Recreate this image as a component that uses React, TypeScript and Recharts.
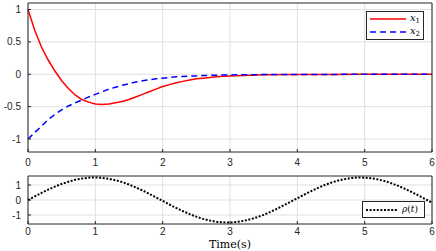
import React from "react";
import {
  LineChart,
  Line,
  XAxis,
  YAxis,
  CartesianGrid,
  Legend,
} from "recharts";

// time samples of the top plot
const T_TOP = [
  0, 0.1, 0.2, 0.3, 0.4, 0.5, 0.6, 0.7, 0.8, 0.9, 1.0, 1.1, 1.2, 1.3, 1.4, 1.5,
  1.6, 1.7, 1.8, 1.9, 2.0, 2.1, 2.2, 2.3, 2.4, 2.5, 2.6, 2.7, 2.8, 2.9, 3.0,
  3.5, 4.0, 4.5, 5.0, 5.5, 6.0,
];
const X1 = [
  1.0, 0.68, 0.42, 0.22, 0.05, -0.1, -0.22, -0.32, -0.39, -0.43, -0.46, -0.465,
  -0.46, -0.44, -0.42, -0.39, -0.35, -0.31, -0.27, -0.23, -0.19, -0.16, -0.13,
  -0.11, -0.09, -0.07, -0.06, -0.05, -0.04, -0.03, -0.025, -0.008, -0.004,
  -0.002, -0.001, 0, 0,
];
const X2 = [
  -1.0, -0.9, -0.8, -0.7, -0.62, -0.55, -0.49, -0.44, -0.4, -0.35, -0.31, -0.27,
  -0.23, -0.2, -0.17, -0.145, -0.12, -0.1, -0.085, -0.07, -0.06, -0.05, -0.04,
  -0.035, -0.03, -0.025, -0.02, -0.017, -0.014, -0.012, -0.01, -0.005, -0.003,
  -0.002, -0.001, 0, 0,
];

// time samples of the bottom plot
const T_RHO = [
  0, 0.1, 0.2, 0.3, 0.4, 0.5, 0.6, 0.7, 0.8, 0.9, 1.0, 1.1, 1.2, 1.3, 1.4, 1.5,
  1.6, 1.7, 1.8, 1.9, 2.0, 2.1, 2.2, 2.3, 2.4, 2.5, 2.6, 2.7, 2.8, 2.9, 3.0, 3.1,
  3.2, 3.3, 3.4, 3.5, 3.6, 3.7, 3.8, 3.9, 4.0, 4.1, 4.2, 4.3, 4.4, 4.5, 4.6, 4.7,
  4.8, 4.9, 5.0, 5.1, 5.2, 5.3, 5.4, 5.5, 5.6, 5.7, 5.8, 5.9, 6.0,
];
const RHO = [
  0, 0.24, 0.47, 0.69, 0.89, 1.07, 1.22, 1.35, 1.43, 1.49, 1.5, 1.48, 1.41, 1.32,
  1.19, 1.03, 0.84, 0.64, 0.41, 0.18, -0.06, -0.3, -0.53, -0.74, -0.94, -1.11,
  -1.26, -1.37, -1.45, -1.49, -1.5, -1.46, -1.39, -1.29, -1.15, -0.99, -0.79,
  -0.58, -0.35, -0.12, 0.12, 0.35, 0.58, 0.79, 0.99, 1.15, 1.29, 1.39, 1.46, 1.5,
  1.49, 1.45, 1.37, 1.26, 1.11, 0.94, 0.74, 0.53, 0.3, 0.06, -0.18,
];

const X_TICKS = [0, 1, 2, 3, 4, 5, 6];
const Y_TICKS_TOP = [-1, -0.5, 0, 0.5, 1];
const Y_TICKS_BOT = [-1, 0, 1];

const topData = T_TOP.map((t, i) => ({ t, x1: X1[i], x2: X2[i] }));
const rhoData = T_RHO.map((t, i) => ({ t, rho: RHO[i] }));

const AXIS = "#262626";
const GRID = "#dfdfdf";
const tickFont = { fontSize: 10, fill: AXIS, fontFamily: "Liberation Sans, Arial, sans-serif" };
const mathFont = "DejaVu Serif, serif";

const labelFor = (key: string) => {
  if (key === "x1" || key === "x2")
    return (
      <span style={{ fontFamily: mathFont, fontStyle: "italic", fontSize: 10 }}>
        x
        <sub style={{ fontSize: 7, fontStyle: "normal", verticalAlign: -2 }}>
          {key === "x1" ? "1" : "2"}
        </sub>
      </span>
    );
  return (
    <span style={{ fontFamily: mathFont, fontStyle: "italic", fontSize: 9 }}>
      ρ<span style={{ fontStyle: "normal" }}>(</span>t<span style={{ fontStyle: "normal" }}>)</span>
    </span>
  );
};

const makeLegend = (lineW: number, rowH: number) => (props: any) => {
  const payload = props.payload || [];
  return (
    <div
      style={{
        boxSizing: "border-box",
        border: `1px solid ${AXIS}`,
        background: "#fff",
        padding: "1px 3px",
        lineHeight: 1,
      }}
    >
      {payload.map((p: any) => (
        <div key={p.dataKey} style={{ display: "flex", alignItems: "center", height: rowH }}>
          <svg width={lineW} height={6} style={{ marginRight: 4 }}>
            <line
              x1={0}
              y1={3}
              x2={lineW}
              y2={3}
              stroke={p.color}
              strokeWidth={p.payload?.strokeWidth ?? 1.5}
              strokeDasharray={p.payload?.strokeDasharray}
            />
          </svg>
          {labelFor(String(p.dataKey))}
        </div>
      ))}
    </div>
  );
};

export default function App() {
  return (
    <div
      style={{
        position: "absolute",
        left: 0,
        top: 0,
        width: 436,
        height: 251,
        background: "#fff",
      }}
    >
      <div style={{ position: "absolute", left: 0, top: 0 }}>
        <LineChart width={436} height={170} data={topData} margin={{ top: 2, right: 3, left: 0, bottom: 0 }}>
          <CartesianGrid stroke={GRID} horizontalValues={Y_TICKS_TOP} verticalValues={X_TICKS} />
          <XAxis
            dataKey="t"
            type="number"
            domain={[0, 6]}
            ticks={X_TICKS}
            interval={0}
            height={18}
            tick={tickFont}
            tickSize={-3}
            tickMargin={10}
            axisLine={{ stroke: AXIS }}
            tickLine={{ stroke: AXIS }}
          />
          <XAxis
            xAxisId="top"
            orientation="top"
            dataKey="t"
            type="number"
            domain={[0, 6]}
            ticks={X_TICKS}
            interval={0}
            height={1}
            tick={false}
            tickSize={-3}
            axisLine={{ stroke: AXIS }}
            tickLine={{ stroke: AXIS }}
          />
          <YAxis
            type="number"
            domain={[-1.2, 1.1]}
            ticks={Y_TICKS_TOP}
            interval={0}
            width={28}
            tick={tickFont}
            tickSize={-3}
            tickMargin={10}
            axisLine={{ stroke: AXIS }}
            tickLine={{ stroke: AXIS }}
          />
          <YAxis
            yAxisId="right"
            orientation="right"
            type="number"
            domain={[-1.2, 1.1]}
            ticks={Y_TICKS_TOP}
            interval={0}
            width={1}
            tick={false}
            tickSize={-3}
            axisLine={{ stroke: AXIS }}
            tickLine={{ stroke: AXIS }}
          />
          <Line
            type="linear"
            dataKey="x1"
            stroke="#ff0000"
            strokeWidth={1.5}
            dot={false}
            isAnimationActive={false}
          />
          <Line
            type="linear"
            dataKey="x2"
            stroke="#0000ff"
            strokeWidth={1.5}
            strokeDasharray="6 4"
            dot={false}
            isAnimationActive={false}
          />
          <Legend
            layout="vertical"
            align="center"
            verticalAlign="middle"
            content={makeLegend(36, 12.5)}
            wrapperStyle={{ left: 366, top: 11, width: 58 }}
          />
        </LineChart>
      </div>
      <div style={{ position: "absolute", left: 0, top: 170 }}>
        <LineChart width={436} height={81} data={rhoData} margin={{ top: 5, right: 3, left: 0, bottom: 0 }}>
          <CartesianGrid stroke={GRID} horizontalValues={Y_TICKS_BOT} verticalValues={X_TICKS} />
          <XAxis
            dataKey="t"
            type="number"
            domain={[0, 6]}
            ticks={X_TICKS}
            interval={0}
            height={27}
            tick={tickFont}
            tickSize={-3}
            tickMargin={7}
            axisLine={{ stroke: AXIS }}
            tickLine={{ stroke: AXIS }}
            label={{
              value: "Time(s)",
              position: "insideBottom",
              offset: 3,
              style: { fontFamily: mathFont, fontSize: 11, fill: "#000" },
            }}
          />
          <XAxis
            xAxisId="top"
            orientation="top"
            dataKey="t"
            type="number"
            domain={[0, 6]}
            ticks={X_TICKS}
            interval={0}
            height={1}
            tick={false}
            tickSize={-3}
            axisLine={{ stroke: AXIS }}
            tickLine={{ stroke: AXIS }}
          />
          <YAxis
            type="number"
            domain={[-1.6, 1.6]}
            ticks={Y_TICKS_BOT}
            interval={0}
            width={28}
            tick={tickFont}
            tickSize={-3}
            tickMargin={10}
            axisLine={{ stroke: AXIS }}
            tickLine={{ stroke: AXIS }}
          />
          <YAxis
            yAxisId="right"
            orientation="right"
            type="number"
            domain={[-1.6, 1.6]}
            ticks={Y_TICKS_BOT}
            interval={0}
            width={1}
            tick={false}
            tickSize={-3}
            axisLine={{ stroke: AXIS }}
            tickLine={{ stroke: AXIS }}
          />
          <Line
            type="linear"
            dataKey="rho"
            stroke="#000"
            strokeWidth={2}
            strokeDasharray="2 1.6"
            dot={false}
            isAnimationActive={false}
          />
          <Legend
            layout="vertical"
            align="center"
            verticalAlign="middle"
            content={makeLegend(32, 13)}
            wrapperStyle={{ left: 362, top: 31, width: 63 }}
          />
        </LineChart>
      </div>
    </div>
  );
}
